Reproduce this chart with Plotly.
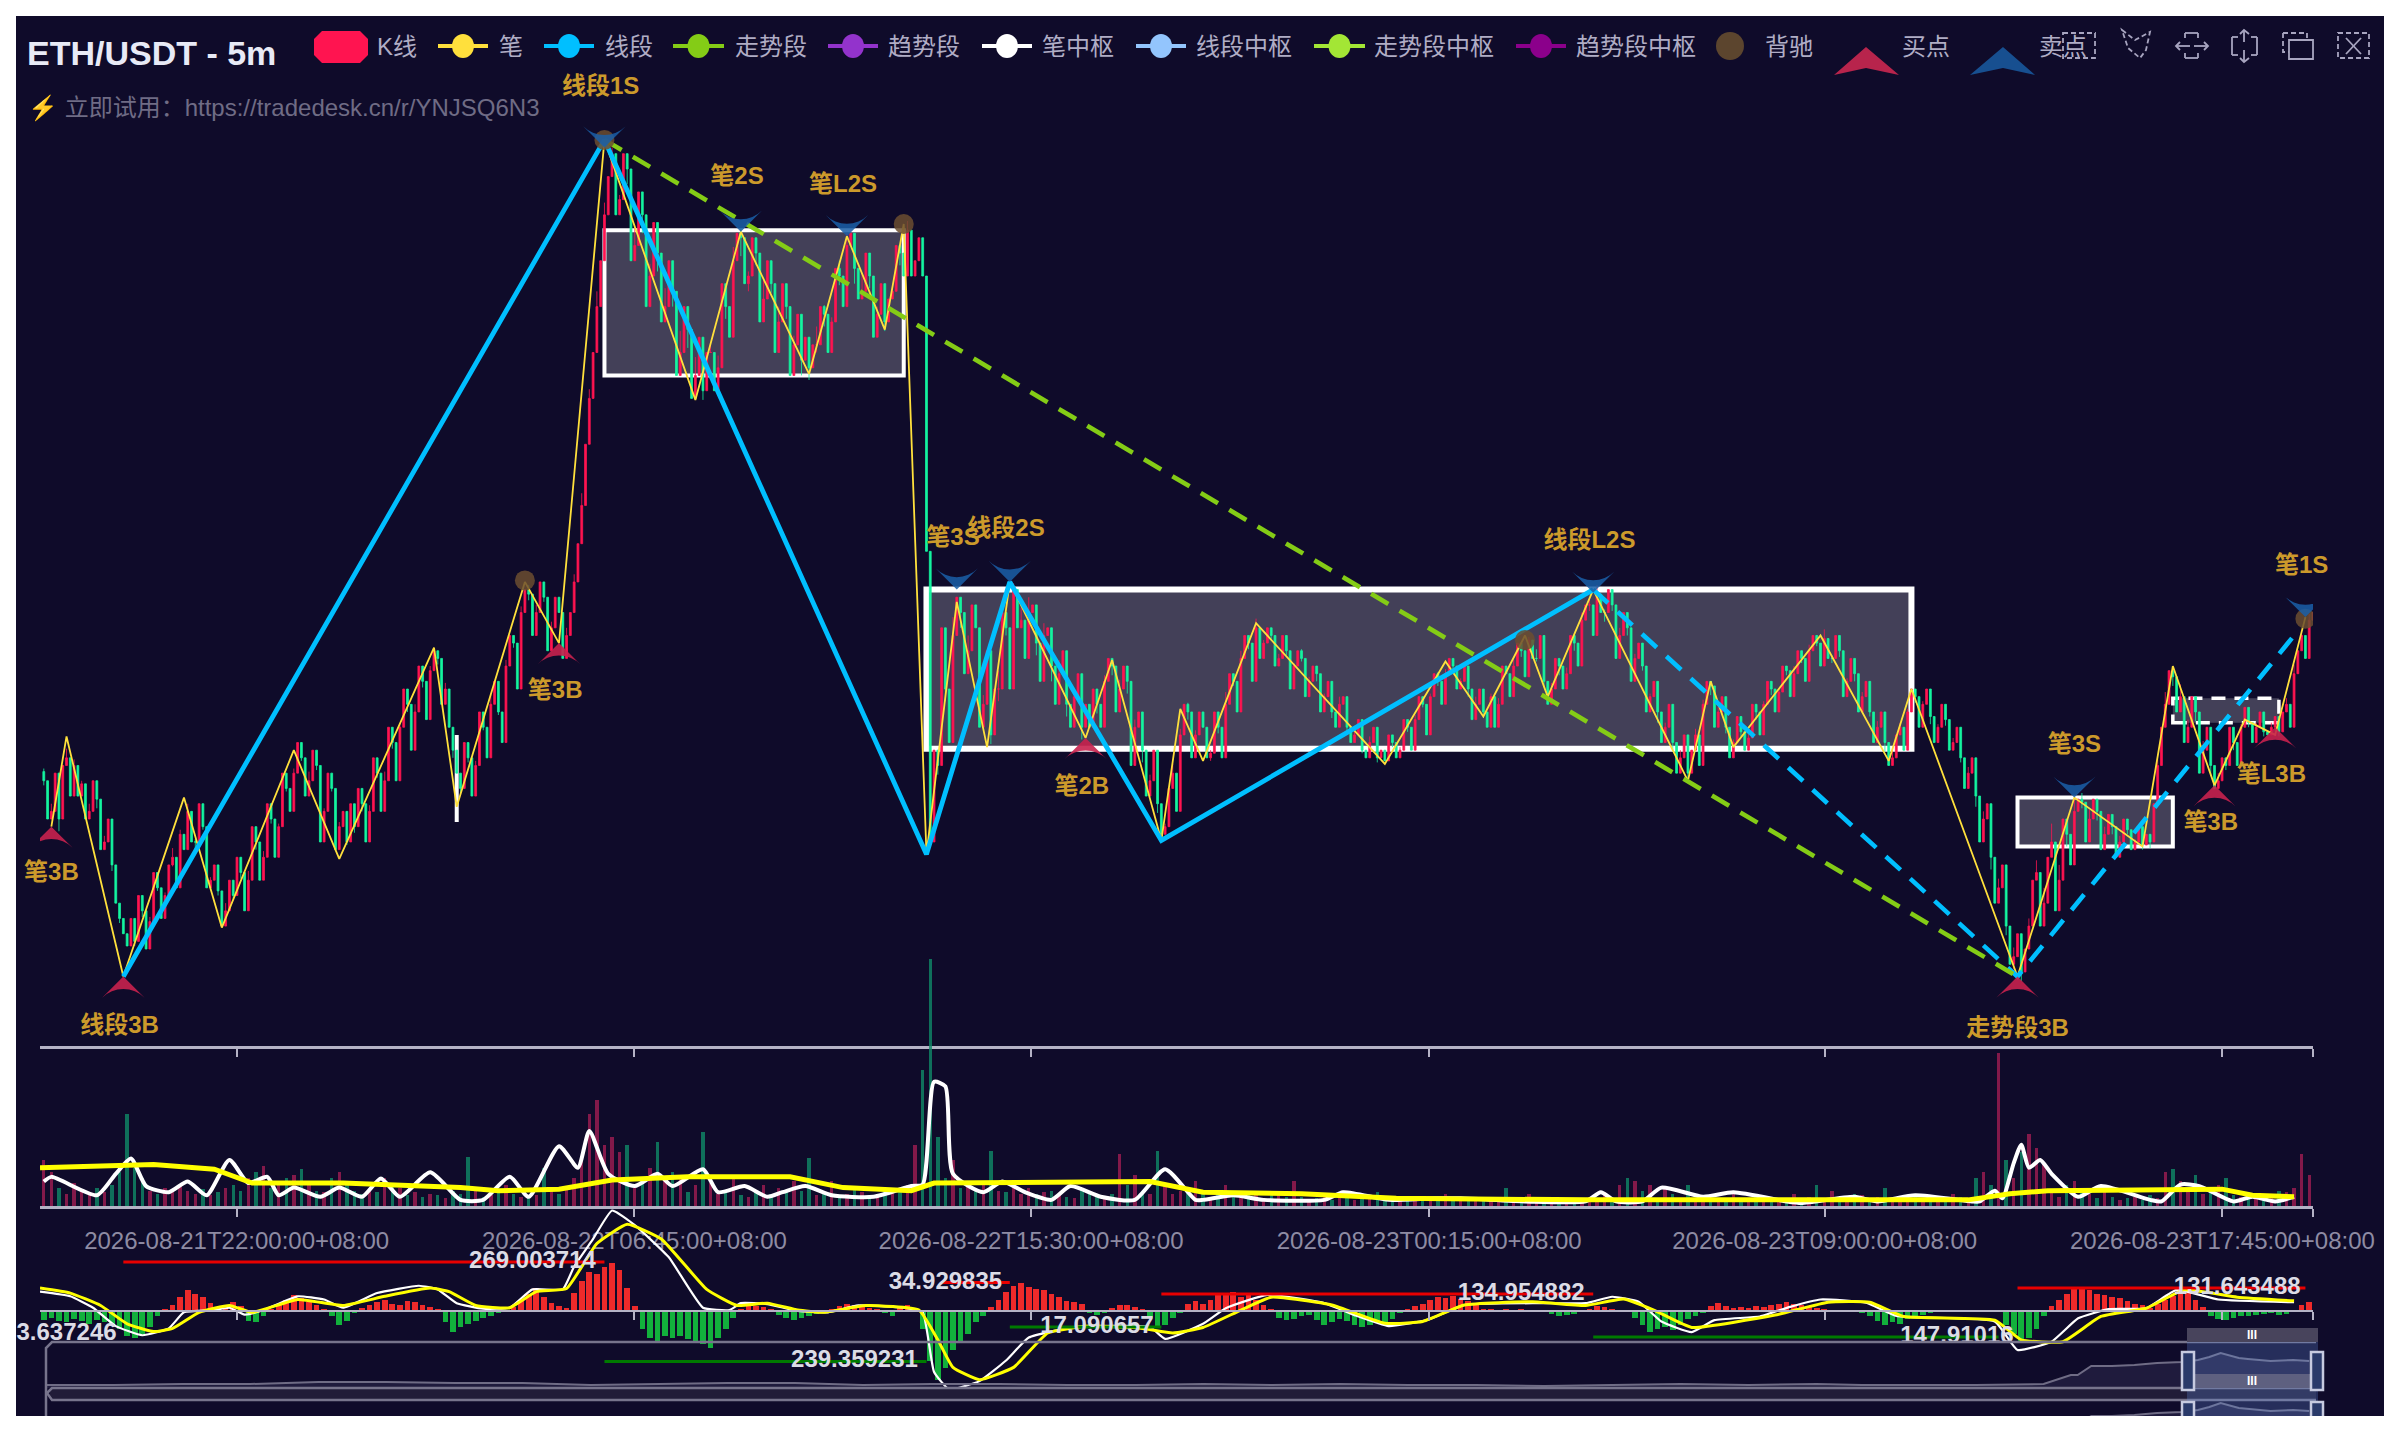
import plotly.graph_objects as go

TITLE = "ETH/USDT - 5m"
SUBTITLE = "⚡ 立即试用：https://tradedesk.cn/r/YNJSQ6N3"
FONT = "Liberation Sans, Noto Sans CJK SC, sans-serif"
BG = "#0f0b2a"
UP = "#ff1450"
DOWN = "#14f5a0"

tick_vals = [51.9, 156.9, 261.6, 366.7, 471.1, 576.1, 600]
tick_text = ["2026-08-21T22:00:00+08:00", "2026-08-22T06:45:00+08:00", "2026-08-22T15:30:00+08:00",
             "2026-08-23T00:15:00+08:00", "2026-08-23T09:00:00+08:00", "2026-08-23T17:45:00+08:00", ""]

close_odd = [190,170,165,205, 200,188,170,178,150,135,100,82, 85,105,98,120,115,140,155,170,
 150,160,125,118,105, 115,130,125,150,140,165,160,185,195,205, 190,200,170,185,160,150,
 160,175,170,195,190,215,225,240,235,255,262,270, 250,210,185, 205,200,225,240,235,265,280,300,312,
 300,310,290,300,285, 320,370,440,500,560,600, 570,590,540,560,520,535,500,510,470,485,455,445,
 470,460,500,530,545, 520,535,505,515,490,500,475,465,460, 475,495,490,520,540, 525,510,520,495,490,
 510,535,550, 530,520,150, 200,250,285,300, 275,290,240,220, 250,290,315,
 295,300,280,285,265,260,240,245,225,225, 240,255,265, 250,255,225,210,190,175,160, 195,220,235,
 220,225,208, 225,240,255,270,280,290, 280,285,270,275,265,270,255,260,245,235,240,225,220,210,215,205,203,
 215,210,225,230,240,245,255,260,265, 255,250,240,235, 245,240,260,265,275,282, 270,255,250,
 265,260,280,295,305,312, 300,305,285,290,270,265,245,235,225,215,205,195, 220,240,252, 235,225,215,
 222,218,235,240,250,248,262,260,270,275,280,283, 270,275,255,260,245,235,225,215,205, 225,235,245,
 240,232,225,230,215,205,195,180,165,140,120,95,75,65, 95,130,110,150,125,155,170,176,
 165,170,155,160,150,158,150,148,150, 200,240,258, 245,225,235,210,200,190, 200,215,225,228,
 225,222,225,222, 240,260,285,295]

close_even = [165,195,200,180, 180,165,190,145,165,110,90,100, 115,80,130,100,135,120,145,150,
 175,120,135,95,125, 140,105,160,125,175,140,195,170,215,180, 210,150,195,145,170,175,
 185,150,205,170,225,190,250,210,265,230,275,240, 225,195,215, 180,235,205,255,215,285,250,315,285,
 320,275,310,270,300, 345,410,470,530,585,560, 600,530,575,500,555,490,530,455,500,440,480,470,
 445,515,480,548,515, 545,490,530,470,515,455,495,480,475, 500,470,525,500,548, 505,535,480,515,505,
 540,520,520, 545,340,210, 290,215,310,260, 305,225,275,250, 300,250,290,
 270,305,255,290,240,275,225,260,240,250, 225,270,235, 265,200,235,180,210,155,185, 170,240,205,
 235,205,235, 205,260,235,285,255,270, 290,265,285,250,275,245,265,235,255,225,245,215,230,205,225,210,220,
 205,230,210,245,220,260,240,270,250, 265,230,250,225, 225,265,245,280,258,270, 285,240,270,
 250,285,265,305,285,300, 315,270,300,255,280,235,255,215,240,195,220,210, 200,255,225, 245,205,232,
 210,240,220,255,235,265,245,275,255,285,265,270, 285,245,270,235,255,215,235,200,220, 210,250,225,
 250,215,240,210,225,185,205,150,175,110,135,70,90,80, 125,95,140,105,165,135,178,150,
 178,145,168,140,165,145,160,155,175, 225,262,235, 215,245,195,225,185,205, 225,200,238,215,
 235,220,232,235, 225,275,270,300]

upper_wick = [8,5,3,6,4,2,5,3,4,2, 3,2,5,6,3,4,2,6,3,5, 2,4,2,3,5,4,2,6,3,4, 6,2,4,3,5,6,3,2,4,3,
 3,5,2,4,3,6,4,2,3,5, 4,3,2,4,3,2,5,3,4,6, 3,4,2,4,6,5,3,4,3,5, 5,8,6,10,8,4,3,10,12,14,
 8,10,12,6,14,8,12,10,5,8, 12,9,6,3,6,12,8,10,9,6, 8,5,12,6,3,10,8,5,12,8, 5,4,3,2,6,0,0,0,10,8,
 12,8,10,14,6,9,12,5,4,8, 10,5,8,3,9,6,4,3,6,8, 4,3,6,4,5,8,4,3,2,6, 4,6,3,5,2,4,8,4,5,3,
 6,2,4,3,5,2,6,3,4,2, 3,5,2,6,3,4,2,3,5,2, 4,3,5,2,6,3,4,2,3,5, 3,2,4,3,4,5,2,6,3,4,
 2,4,3,5,4,6,2,3,5,4, 3,6,2,4,3,2,5,2,4,3, 2,5,3,2,4,3,5,2,4,2, 3,5,2,4,3,6,2,4,2,5,
 3,2,4,2,5,3,2,4,2,3, 2,4,3,2,4,3,5,8,6,8, 6,4,5,8,10,12,10,10,8,6, 6,3,5,2,4,3,2,4,2,4,
 8,6,8,5,4,6,4,5,4,3, 2,4,3,2,3,2,4,6,2,4]

lower_wick = [3,4,8,2,3,5,2,6,2,4, 3,0,3,4,5,2,4,6,3,3, 5,2,6,3,0,2,4,2,5,3, 3,4,2,4,2,5,3,6,2,0,
 2,4,5,2,3,2,4,3,5,2, 4,2,4,0,5,3,3,5,2,4, 2,4,3,6,4,8,3,5,0,4, 6,10,12,10,14,0,8,10,10,12,
 8,12,8,10,8,12,10,6,0,10, 8,6,12,10,8,10,6,12,8,0, 10,8,5,8,10,6,8,10,5,8, 10,6,5,8,10,5,0,0,6,8,
 12,10,8,0,10,6,8,5,6,0, 5,8,6,10,6,8,5,8,0,6, 8,6,4,8,5,8,0,6,5,6, 4,5,3,0,5,4,5,3,6,4,
 4,5,3,4,3,5,2,4,5,3, 4,3,5,4,2,5,3,0,3,5, 3,5,2,4,3,5,3,4,5,3, 4,6,3,0,3,4,5,2,4,3,
 6,4,5,2,4,5,6,4,0,5, 5,3,6,7,4,5,3,4,5,3, 6,2,4,6,3,4,5,2,4,6, 3,5,3,4,2,5,3,4,3,5,
 4,3,4,6,0,4,6,4,7,5, 6,4,5,3,5,7,6,8,8,6, 8,6,5,0,5,6,5,8,6,4, 5,6,4,5,5,3,5,3,4,4,
 0,6,5,4,6,5,7,4,3,5, 6,3,4,3,2,3,5,3,5,2]

volume = [30,22,12,8,15,10,7,12,9,14, 22,60,25,18,10,8,12,9,14,10, 8,11,7,9,12,14,10,18,22,26, 12,14,18,20,24,16,10,9,18,22,
 14,10,8,12,9,18,15,12,7,9, 6,8,7,5,10,8,32,10,6,7, 9,14,8,6,5,7,25,10,8,12, 18,30,60,69,40,45,35,40,12,15,
 25,42,18,22,20,9,14,48,15,8, 10,18,7,6,10,14,8,12,9,16, 10,31,7,9,16,5,8,12,9,7, 6,12,10,9,14,40,89,161,45,18,
 30,12,16,10,14,36,10,9,12,8, 12,8,9,10,7,6,5,12,9,7, 5,8,34,14,20,10,8,36,14,8, 10,12,16,8,6,9,14,6,5,7,
 8,5,7,9,6,16,6,4,5,7, 4,5,6,4,7,5,9,4,6,3, 5,3,4,6,5,8,4,6,3,5, 4,3,5,12,4,3,8,5,4,3,
 3,5,2,4,6,3,9,4,14,18, 16,10,14,5,12,8,5,14,4,6, 3,5,4,8,3,4,6,3,5,4, 3,8,4,6,14,5,10,6,5,8,
 7,5,6,12,4,6,5,7,4,5, 5,3,8,6,3,18,22,14,100,30, 18,35,47,38,28,10,6,14,16,10, 8,5,14,6,4,5,6,4,7,5,
 22,24,16,10,20,8,12,14,18,7, 6,5,6,7,8,10,9,12,34,20]

vol_ma5_x = [1,3,15,20,24,28,34,39,44,50,55,60,63,67,74,79,85,90,95,103,111,117,124,129,137,142,145,150,157,163,167,175,179,
 186,192,196,202,209,220,230,233,236,239,241,249,254,260,267,272,280,289,297,305,307,315,323,339,344,356,368,375,392,
 408,412,416,423,428,439,447,461,465,479,485,495,510,512,516,518,521,523,525,528,531,538,544,557,560,565,570,579,584,590,595]
vol_ma5 = [16,19,7,21,31,13,9,16,7,30,15,19,7,12,6,12,6,18,6,22,4,4,19,6,39,25,49,21,13,21,13,24,9,13,6,9,13,7,6,13,14,
 81,78,21,9,16,9,4,13,6,4,24,4,4,7,4,4,9,4,5,5,3,3,9,3,3,12,6,9,3,2,6,3,7,3,3,10,5,28,40,25,30,21,6,13,4,3,14,13,3,6,3,6]
vol_ma20_x = [0,30,46,56,80,111,121,137,151,171,198,212,230,236,293,307,333,358,408,449,509,520,530,576,584,595]
vol_ma20 = [25,27,24,15,15,12,10,11,17,19,19,12,10,15,16,9,8,5,4,4,4,8,10,11,7,6]

macd_hist = [-20,-15,-22,-25,-18,-22,-28,-20,-25,-30,-40,-55,-60,-50,-35,-10, 5,12,30,45,38,30,18,8, 6,20,10, -22,-25,-10,
 4,12,25,35,28,20,12,5, -12,-30,-22,-5, 6,12,20,25,15,12,22,20,14,8,3, -25,-45,-35,-28,-22,-15,-10,-5,-3,
 8,22,38,50,30,18,10,6, 40,65,85,80,95,105,90,50,10, -40,-60,-65,-55,-60,-55,-62,-65,-72,-80,-60,-40,-15,
 5,12,10,8,3, -8,-15,-20,-15,-12,-6,-3, 4,10,15,14,10,6,3, -5,-12, 8,12,6,
 -40,-110,-150,-125,-85,-65,-50,-25,-10, 8,25,42,55,60,52,48,46,38,30,22,20,15, -5,-8,-4, 6,12,13,9,4, -15,-35,-30,-15,-4,
 15,22,15,25,35,38,42,30,35,25,12,5, -15,-20,-18,-12,-8,-20,-30,-25,-18,-22,-30,-35,-30,-25,-30,-18,-5,
 5,10,16,25,30,28,32,26,22,15,5, 3,2,4,2,3,2,2,1, -6,-10,-9,-6,-2, 5,10,8,4,1,1,
 -15,-30,-45,-40,-35,-42,-30,-18,-10,-4, 10,18,10,6,8,6,10,8,12,16,20,16,12,8,6,5, 2,1,1,1,
 -5,-12,-22,-30,-25,-28,-18,-12,-8,-5,-2, 1,-2,1,-3,2,1,-2,1, -30,-50,-65,-60,-40,-12,
 10,25,38,50,52,45,38,34,30,28,22,15,12,6, 15,25,32,45,40,25,8, -10,-18,-20,-15,-10,-12,-8,-6,-5,-8,-6,-3, 12,20]

dif_x = [0,8,14,20,27,34,38,46,50,54,59,68,75,80,89,100,105,110,117,124,130,138,141,146,151,157,166,175,182,185,192,200,208,216,228,233,236,240,248,255,261,273,293,297,307,
 313,324,339,347,356,366,376,396,408,415,422,428,436,442,454,462,470,482,490,516,522,531,538,546,556,564,575,595]
dif = [42,32,7,-33,-53,-38,-3,2,7,-8,2,32,25,7,39,55,47,17,5,7,47,47,97,157,219,187,117,7,2,17,15,0,-3,12,7,-3,-133,-171,-153,-108,-58,-35,-35,-61,-28,
 6,35,17,-9,-33,-20,13,17,17,31,20,-23,-46,-20,-12,9,25,18,-11,-23,-85,-67,-16,4,6,46,25,19]
dea_x = [0,8,16,23,30,35,42,50,56,68,80,91,103,108,115,124,131,139,147,155,164,176,184,192,200,207,218,232,237,241,248,257,266,277,291,299,307,
 317,325,341,355,365,376,394,408,418,426,436,458,472,483,492,516,523,534,544,556,566,580,595]
dea = [50,39,12,-28,-45,-38,-3,12,-3,25,12,32,50,42,12,7,42,49,147,189,157,47,12,17,2,-3,12,2,-63,-123,-150,-123,-48,-33,-38,-48,-36,
 2,30,13,-27,-23,13,20,12,26,2,-36,-9,19,19,-12,-20,-63,-67,-12,6,46,30,22]

mark_high_x = [[22, 149], [238, 256], [296, 410], [522, 598]]
mark_high_y = [107, 62, 37, 50]
mark_low_x = [[149, 234], [256, 296], [410, 517]]
mark_low_y = [-110, -35, -57]
mark_labels = ["269.003714", "34.929835", "134.954882", "131.643488", "239.359231", "17.090657", "147.91016", "3.637246"]
mark_label_x = [130, 239, 391, 580, 215, 279, 506, 7]
mark_label_y = [107, 62, 37, 50, -110, -35, -57, -50]

pen_x = [3,7,22,38,48,67,79,104,110,128,137,149,173,185,203,213,223,228,234,242,250,256,276,283,296,301,307,321,355,371,381,392,398,410,435,441,447,470,488,494,522,537,555,563,574,582,590,598]
pen_y = [160,219,62,179,94,210,139,277,173,320,280,609,439,549,456,546,485,554,142,307,212,320,218,269,151,237,203,293,201,268,232,285,245,315,190,255,212,285,203,250,62,179,147,265,187,230,220,297]
seg_x = [22,149,234,256,296,410]
seg_y = [62,609,142,320,151,315]
seg_open_x = [410,522,596]
seg_open_y = [315,62,288]
trend_x = [149,522]
trend_y = [609,62]

hub_x0 = [149,234,522,110]
hub_x1 = [228,494,563,110]
hub_y0 = [455,211,147,163]
hub_y1 = [550,315,179,220]
hub_w = [4,6,4,4]
open_hub = [563,591,228,244]

buy_x = [3,22,137,276,522,574,590]
buy_y = [160,62,280,218,62,187,225]
sell_x = [149,185,213,242,256,410,537,598]
sell_y = [604,549,546,315,320,313,179,297]
div_x = [128,149,228,392,598]
div_y = [321,609,554,282,296]

label_text = ["线段1S","笔2S","笔L2S","笔3S","线段2S","线段L2S","笔1S","笔3S","笔3B","笔3B","线段3B","笔2B","走势段3B","笔3B","笔L3B"]
label_x = [148,184,212,241,255,409,597,537,136,3,21,275,522,573,589]
label_y = [643,584,579,348,354,346,330,213,248,129,29,185,27,162,193]

overview_x = [0,3,6,9,12,15,18,21,24,27,30,33,36,39,42,45,48,51,54,57,60,63,66,69,72,75,78,80,85,88,89.2,89.5,90.1,91,92,93,94.1,94.8,95.3,95.8,96.6,97,98,99,99.7]
overview_y = [3,3,4,4,6,6,5,5,3,4,5,5,3,4,4,3,3,4,3,4,3,3,2,3,4,3,4,3,3,4,13,13,22,22,23,25,26,28,31,35,30,29,27,28,27]

legend_lines = [("笔",438,488,"#ffe03c",499),("线段",544,594,"#00bfff",605),("走势段",673,724,"#84cc16",735),
                ("趋势段",828,878,"#9333cc",888),("笔中枢",982,1032,"#ffffff",1042),("线段中枢",1136,1186,"#93c5fd",1196),
                ("走势段中枢",1314,1365,"#a3e635",1374),("趋势段中枢",1516,1566,"#8b008b",1576)]


def X(x):
    return (x - 16) / 2368


def Y(y):
    return 1 - (y - 16) / 1400


def path(points, close_path=False):
    d = "M" + " L".join(f"{X(a):.5f},{Y(b):.5f}" for a, b in points)
    return d + (" Z" if close_path else "")


# the two lists alternate in time; each candle opens where the one before it closed
bar_x, close, high, low = [], [], [], []
for k, (c1, c2, u, l) in enumerate(zip(close_odd, close_even, upper_wick, lower_wick)):
    bar_x += [2 * k + 1, 2 * k + 2]
    close += [c1, c2]
    high += [c1 + u, c2]
    low += [c1 - l, c2]
open_ = [close[0] + 6] + close[:-1]
high = [max(o, c, h) for o, c, h in zip(open_, close, high)]
low = [min(o, c, v) for o, c, v in zip(open_, close, low)]
vol_x = [2 * k + 1 for k in range(len(volume))]

fig = go.Figure()

# main panel
fig.add_trace(go.Candlestick(x=bar_x, open=open_, high=high, low=low, close=close, name="K线",
                             increasing=dict(line=dict(color=UP, width=0.8), fillcolor=UP),
                             decreasing=dict(line=dict(color=DOWN, width=0.8), fillcolor=DOWN),
                             whiskerwidth=0, xaxis="x", yaxis="y"))
fig.add_trace(go.Scatter(x=pen_x, y=pen_y, mode="lines", name="笔", line=dict(color="#ffe03c", width=1.8), xaxis="x", yaxis="y"))
fig.add_trace(go.Scatter(x=seg_x, y=seg_y, mode="lines", name="线段", line=dict(color="#00bfff", width=4.8), xaxis="x", yaxis="y"))
fig.add_trace(go.Scatter(x=seg_open_x, y=seg_open_y, mode="lines", name="线段", line=dict(color="#00bfff", width=4.6, dash="20px,13px"), xaxis="x", yaxis="y"))
fig.add_trace(go.Scatter(x=trend_x, y=trend_y, mode="lines", name="走势段", line=dict(color="#84cc16", width=4.6, dash="20px,13px"), xaxis="x", yaxis="y"))
fig.add_trace(go.Scatter(x=div_x, y=div_y, mode="markers", name="背驰", marker=dict(color="#6b4e30", size=20, opacity=0.85), xaxis="x", yaxis="y"))
fig.add_trace(go.Scatter(x=buy_x, y=buy_y, mode="markers", name="买点", marker=dict(symbol="arrow-wide", color="#c8214e", size=30, opacity=0.9, line=dict(width=0)), xaxis="x", yaxis="y"))
fig.add_trace(go.Scatter(x=sell_x, y=sell_y, mode="markers", name="卖点", marker=dict(symbol="arrow-wide", angle=180, color="#1a5fa8", size=30, opacity=0.85, line=dict(width=0)), xaxis="x", yaxis="y"))
fig.add_trace(go.Scatter(x=label_x, y=label_y, mode="text", text=label_text, textposition="middle center", cliponaxis=False,
                         textfont=dict(color="#cc9a2b", size=24, family=FONT, weight="bold"), xaxis="x", yaxis="y"))

# volume
vol_colors = ["#a01d52" if close_odd[k] >= close_even[k - 1 if k else 0] else "#0f8a68" for k in range(len(volume))]
fig.add_trace(go.Bar(x=vol_x, y=volume, marker=dict(color=vol_colors, line=dict(width=0)), opacity=0.8, width=0.9, xaxis="x2", yaxis="y2"))
fig.add_trace(go.Scatter(x=vol_ma5_x, y=vol_ma5, mode="lines", line=dict(color="#ffffff", width=4, shape="spline", smoothing=0.6), xaxis="x2", yaxis="y2"))
fig.add_trace(go.Scatter(x=vol_ma20_x, y=vol_ma20, mode="lines", line=dict(color="#ffff00", width=5), xaxis="x2", yaxis="y2"))

# macd
hist_colors = ["#ee2a2a" if v >= 0 else "#12b03c" for v in macd_hist]
fig.add_trace(go.Bar(x=vol_x, y=macd_hist, marker=dict(color=hist_colors, line=dict(width=0)), width=1.5, xaxis="x3", yaxis="y3"))
fig.add_trace(go.Scatter(x=dif_x, y=dif, mode="lines", line=dict(color="#ffffff", width=2.2, shape="spline", smoothing=0.4), xaxis="x3", yaxis="y3"))
fig.add_trace(go.Scatter(x=dea_x, y=dea, mode="lines", line=dict(color="#ffff00", width=3, shape="spline", smoothing=0.4), xaxis="x3", yaxis="y3"))
for xs, v in zip(mark_high_x, mark_high_y):
    fig.add_trace(go.Scatter(x=xs, y=[v, v], mode="lines", line=dict(color="#e80000", width=3), xaxis="x3", yaxis="y3"))
for xs, v in zip(mark_low_x, mark_low_y):
    fig.add_trace(go.Scatter(x=xs, y=[v, v], mode="lines", line=dict(color="#007a00", width=3), xaxis="x3", yaxis="y3"))
fig.add_trace(go.Scatter(x=mark_label_x, y=mark_label_y, mode="text", text=mark_labels, textposition="middle center",
                         textfont=dict(color="#dcdce6", size=24, family=FONT, weight="bold"), cliponaxis=False, xaxis="x3", yaxis="y3"))

# overview of the slider
fig.add_trace(go.Scatter(x=overview_x, y=overview_y, mode="lines", fill="tozeroy", fillcolor="rgba(120,110,160,0.16)",
                         line=dict(color="#6f6c85", width=2), xaxis="x4", yaxis="y4"))
fig.add_trace(go.Scatter(x=overview_x, y=overview_y, mode="lines", fill="tozeroy", fillcolor="rgba(120,110,160,0.16)",
                         line=dict(color="#6f6c85", width=2), xaxis="x5", yaxis="y5"))

shapes = []
for x0, x1, y0, y1, w in zip(hub_x0, hub_x1, hub_y0, hub_y1, hub_w):
    shapes.append(dict(type="rect", xref="x", yref="y", x0=x0, x1=x1, y0=y0, y1=y1, layer="below",
                       fillcolor="rgba(255,255,255,0.22)", line=dict(color="#ffffff", width=w)))
shapes.append(dict(type="rect", xref="x", yref="y", x0=open_hub[0], x1=open_hub[1], y0=open_hub[2], y1=open_hub[3], layer="below",
                   fillcolor="rgba(255,255,255,0.22)", line=dict(color="#ffffff", width=3.5, dash="14px,9px")))

LEG_Y = 46
shapes.append(dict(type="path", path="M" + " L".join(f"{X(a):.5f},{Y(b):.5f}" for a, b in [(322, 31), (360, 31), (368, 39), (368, 55), (360, 63), (322, 63), (314, 55), (314, 39)]) + " Z",
                   xref="paper", yref="paper", fillcolor=UP, line=dict(width=0)))
annotations = []


def note(text, x, y, size=24, color="#b0adc5", anchor="left", bold=False):
    annotations.append(dict(text=f"<b>{text}</b>" if bold else text, x=X(x), y=Y(y), xref="paper", yref="paper", showarrow=False,
                            xanchor=anchor, yanchor="middle", font=dict(size=size, color=color, family=FONT)))


note(TITLE, 25, 53, size=34, color="#e8eaf6", bold=True)
note(SUBTITLE, 26, 108, size=24, color="#6f6c85")
note("K线", 375, LEG_Y)
for text, x0, x1, color, tx in legend_lines:
    shapes.append(dict(type="line", xref="paper", yref="paper", x0=X(x0), x1=X(x1), y0=Y(LEG_Y), y1=Y(LEG_Y), line=dict(color=color, width=4)))
    cx = (x0 + x1) / 2
    shapes.append(dict(type="circle", xref="paper", yref="paper", x0=X(cx - 11), x1=X(cx + 11), y0=Y(LEG_Y - 12), y1=Y(LEG_Y + 12), fillcolor=color, line=dict(width=0)))
    note(text, tx - 2, LEG_Y)
shapes.append(dict(type="circle", xref="paper", yref="paper", x0=X(1716), x1=X(1744), y0=Y(32), y1=Y(60), fillcolor="#5c452e", line=dict(width=0)))
note("背驰", 1763, LEG_Y)
shapes.append(dict(type="path", xref="paper", yref="paper", path=path([(1866, 47), (1899, 75), (1866, 68), (1834, 75)], True), fillcolor="#b8244c", line=dict(width=0)))
note("买点", 1900, LEG_Y)
shapes.append(dict(type="path", xref="paper", yref="paper", path=path([(2003, 47), (2035, 75), (2003, 68), (1970, 75)], True), fillcolor="#174f90", line=dict(width=0)))
note("卖点", 2037, LEG_Y)

# toolbox icons
ICON = dict(color="#a8a5c0", width=1.8, dash="5px,3px")
SOLID = dict(color="#a8a5c0", width=1.8)
icons = [
    ([[(2063, 33), (2095, 33), (2095, 58), (2063, 58)]], True, ICON),
    ([[(2122, 30), (2135, 40), (2150, 32), (2146, 50), (2140, 58), (2128, 48)]], True, ICON),
    ([[(2185, 33), (2198, 33)], [(2185, 58), (2198, 58)], [(2185, 33), (2185, 38)], [(2198, 33), (2198, 38)], [(2185, 53), (2185, 58)], [(2198, 53), (2198, 58)]], False, SOLID),
    ([[(2176, 46), (2190, 46)], [(2194, 46), (2208, 46)], [(2180, 42), (2176, 46), (2180, 50)], [(2204, 42), (2208, 46), (2204, 50)]], False, SOLID),
    ([[(2232, 37), (2232, 55)], [(2257, 37), (2257, 55)], [(2232, 37), (2238, 37)], [(2251, 37), (2257, 37)], [(2232, 55), (2238, 55)], [(2251, 55), (2257, 55)]], False, SOLID),
    ([[(2244, 30), (2244, 42)], [(2244, 50), (2244, 62)], [(2240, 34), (2244, 30), (2249, 34)], [(2240, 58), (2244, 62), (2249, 58)]], False, SOLID),
    ([[(2283, 33), (2307, 33), (2307, 39)], [(2283, 33), (2283, 52), (2289, 52)]], False, ICON),
    ([[(2289, 40), (2313, 40), (2313, 59), (2289, 59)]], True, SOLID),
    ([[(2338, 33), (2369, 33), (2369, 58), (2338, 58)]], True, ICON),
    ([[(2346, 38), (2361, 54)], [(2361, 38), (2346, 54)]], False, SOLID),
]
for paths, closed, style in icons:
    for pts in paths:
        shapes.append(dict(type="path", xref="paper", yref="paper", path=path(pts, closed), line=style))

# slider frames
FRAME = dict(color="#77748c", width=2.5)
shapes.append(dict(type="rect", xref="paper", yref="paper", x0=X(50), x1=X(2316), y0=Y(1388), y1=Y(1400), fillcolor="#211c38", line=dict(width=0)))
shapes.append(dict(type="path", xref="paper", yref="paper", line=FRAME, path=path([(46, 1416), (46, 1348), (52, 1342), (2316, 1342)])))
shapes.append(dict(type="path", xref="paper", yref="paper", line=FRAME, path=path([(2316, 1388), (52, 1388), (47, 1393), (52, 1400), (2316, 1400)])))
shapes.append(dict(type="rect", xref="paper", yref="paper", x0=X(2187), x1=X(2318), y0=Y(1342), y1=Y(1416), fillcolor="rgba(100,140,220,0.28)", line=dict(width=0)))
shapes.append(dict(type="rect", xref="paper", yref="paper", x0=X(2187), x1=X(2318), y0=Y(1328), y1=Y(1342), fillcolor="#48445c", line=dict(width=0)))
shapes.append(dict(type="rect", xref="paper", yref="paper", x0=X(2187), x1=X(2318), y0=Y(1374), y1=Y(1388), fillcolor="#5e6080", line=dict(width=0)))
for hx in (2182, 2311):
    for y0, y1 in ((1352, 1390), (1402, 1420)):
        shapes.append(dict(type="rect", xref="paper", yref="paper", x0=X(hx), x1=X(hx + 12), y0=Y(y0), y1=Y(y1), fillcolor="#2a3a6a", line=dict(color="#c7cbe0", width=2.5)))
note("<b>III</b>", 2252, 1335, size=12, color="#ffffff", anchor="center")
note("<b>III</b>", 2252, 1381, size=12, color="#ffffff", anchor="center")

AXIS_X = dict(range=[0, 600], tickmode="array", tickvals=tick_vals, showgrid=False, zeroline=False, showline=True,
              linecolor="#b5b3c6", linewidth=2.5, ticks="outside", ticklen=8, tickwidth=2, tickcolor="#b5b3c6",
              rangeslider=dict(visible=False), fixedrange=True)

fig.update_layout(
    width=2368, height=1400, margin=dict(l=0, r=0, t=0, b=0, autoexpand=False), autosize=False,
    paper_bgcolor=BG, plot_bgcolor="rgba(0,0,0,0)", showlegend=False, bargap=0, barmode="overlay",
    font=dict(family=FONT), hovermode=False, shapes=shapes, annotations=annotations,
    xaxis=dict(AXIS_X, domain=[X(40), X(2313)], anchor="y", ticktext=[""] * 7),
    yaxis=dict(domain=[Y(1046), Y(16)], range=[16.6, 690], visible=False, fixedrange=True),
    xaxis2=dict(AXIS_X, domain=[X(40), X(2313)], anchor="y2", ticktext=tick_text, ticklabelstandoff=3,
                tickfont=dict(size=24, color="#8e8ba3", family=FONT), tickangle=0),
    yaxis2=dict(domain=[Y(1206), Y(950)], range=[0, 167], visible=False, fixedrange=True),
    xaxis3=dict(AXIS_X, domain=[X(40), X(2313)], anchor="free", position=Y(1311), ticktext=[""] * 7, linewidth=1.5),
    yaxis3=dict(domain=[Y(1416), Y(1194)], range=[-229, 255], visible=False, fixedrange=True),
    xaxis4=dict(domain=[X(46), X(2316)], range=[0, 100], visible=False, fixedrange=True, anchor="y4"),
    yaxis4=dict(domain=[Y(1388), Y(1342)], range=[0, 46], visible=False, fixedrange=True, anchor="x4"),
    xaxis5=dict(domain=[X(46), X(2316)], range=[0, 100], visible=False, fixedrange=True, anchor="y5"),
    yaxis5=dict(domain=[Y(1416), Y(1392)], range=[22, 46], visible=False, fixedrange=True, anchor="x5"),
)

fig.write_html("out.html", config=dict(displayModeBar=False),
               post_script="document.body.style.margin='16px';document.body.style.background='#ffffff';")
